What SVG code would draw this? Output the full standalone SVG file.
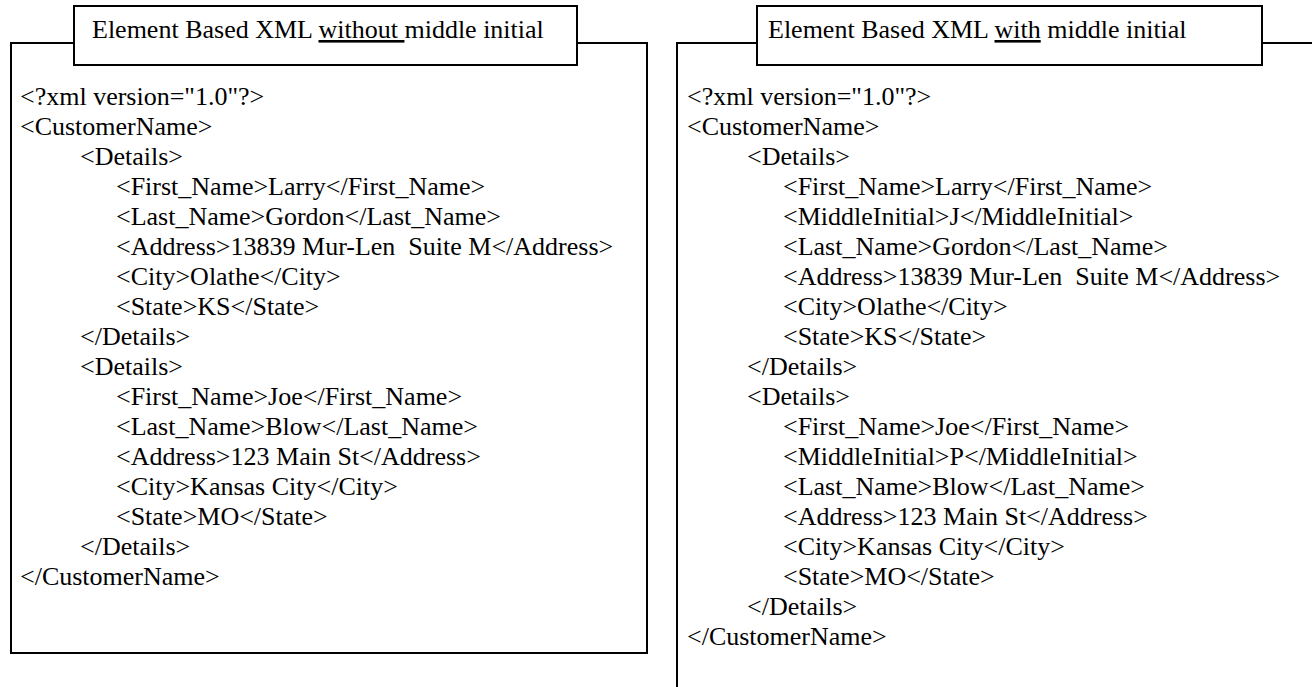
<svg xmlns="http://www.w3.org/2000/svg" width="1312" height="687" viewBox="0 0 1312 687">
<style>
  .frame { fill: none; stroke: #000; stroke-width: 2; }
  .tbox { fill: #fff; stroke: #000; stroke-width: 2; }
  .t { font-family: 'Liberation Serif', 'Times New Roman', Times, serif; font-size: 26px; fill: #000; white-space: pre; }
  .u { text-decoration: underline; }
</style>
<rect x="0" y="0" width="1312" height="687" fill="#fff"/>
<g id="panel-left" font-family="Liberation Serif, Times New Roman, serif">
  <rect class="frame" x="11" y="43" width="636" height="610"/>
  <g id="title-left">
    <rect class="tbox" x="74" y="6" width="503" height="59"/>
    <text class="t" x="92" y="38" xml:space="preserve">Element Based XML <tspan class="u">without </tspan>middle initial</text>
  </g>
  <g id="code-left">
    <text class="t" x="20" y="105">&lt;?xml version="1.0"?&gt;</text>
    <text class="t" x="20" y="135">&lt;CustomerName&gt;</text>
    <text class="t" x="80" y="165">&lt;Details&gt;</text>
    <text class="t" x="116" y="195">&lt;First_Name&gt;Larry&lt;/First_Name&gt;</text>
    <text class="t" x="116" y="225">&lt;Last_Name&gt;Gordon&lt;/Last_Name&gt;</text>
    <text class="t" x="116" y="255" xml:space="preserve">&lt;Address&gt;13839 Mur-Len  Suite M&lt;/Address&gt;</text>
    <text class="t" x="116" y="285">&lt;City&gt;Olathe&lt;/City&gt;</text>
    <text class="t" x="116" y="315">&lt;State&gt;KS&lt;/State&gt;</text>
    <text class="t" x="80" y="345">&lt;/Details&gt;</text>
    <text class="t" x="80" y="375">&lt;Details&gt;</text>
    <text class="t" x="116" y="405">&lt;First_Name&gt;Joe&lt;/First_Name&gt;</text>
    <text class="t" x="116" y="435">&lt;Last_Name&gt;Blow&lt;/Last_Name&gt;</text>
    <text class="t" x="116" y="465">&lt;Address&gt;123 Main St&lt;/Address&gt;</text>
    <text class="t" x="116" y="495">&lt;City&gt;Kansas City&lt;/City&gt;</text>
    <text class="t" x="116" y="525">&lt;State&gt;MO&lt;/State&gt;</text>
    <text class="t" x="80" y="555">&lt;/Details&gt;</text>
    <text class="t" x="20" y="585">&lt;/CustomerName&gt;</text>
  </g>
</g>
<g id="panel-right" font-family="Liberation Serif, Times New Roman, serif">
  <path class="frame" d="M1313 43 H677 V688"/>
  <g id="title-right">
    <rect class="tbox" x="757" y="6" width="505" height="59"/>
    <text class="t" x="768" y="38" xml:space="preserve">Element Based XML <tspan class="u">with</tspan> middle initial</text>
  </g>
  <g id="code-right">
    <text class="t" x="687" y="105">&lt;?xml version="1.0"?&gt;</text>
    <text class="t" x="687" y="135">&lt;CustomerName&gt;</text>
    <text class="t" x="747" y="165">&lt;Details&gt;</text>
    <text class="t" x="783" y="195">&lt;First_Name&gt;Larry&lt;/First_Name&gt;</text>
    <text class="t" x="783" y="225">&lt;MiddleInitial&gt;J&lt;/MiddleInitial&gt;</text>
    <text class="t" x="783" y="255">&lt;Last_Name&gt;Gordon&lt;/Last_Name&gt;</text>
    <text class="t" x="783" y="285" xml:space="preserve">&lt;Address&gt;13839 Mur-Len  Suite M&lt;/Address&gt;</text>
    <text class="t" x="783" y="315">&lt;City&gt;Olathe&lt;/City&gt;</text>
    <text class="t" x="783" y="345">&lt;State&gt;KS&lt;/State&gt;</text>
    <text class="t" x="747" y="375">&lt;/Details&gt;</text>
    <text class="t" x="747" y="405">&lt;Details&gt;</text>
    <text class="t" x="783" y="435">&lt;First_Name&gt;Joe&lt;/First_Name&gt;</text>
    <text class="t" x="783" y="465">&lt;MiddleInitial&gt;P&lt;/MiddleInitial&gt;</text>
    <text class="t" x="783" y="495">&lt;Last_Name&gt;Blow&lt;/Last_Name&gt;</text>
    <text class="t" x="783" y="525">&lt;Address&gt;123 Main St&lt;/Address&gt;</text>
    <text class="t" x="783" y="555">&lt;City&gt;Kansas City&lt;/City&gt;</text>
    <text class="t" x="783" y="585">&lt;State&gt;MO&lt;/State&gt;</text>
    <text class="t" x="747" y="615">&lt;/Details&gt;</text>
    <text class="t" x="687" y="645">&lt;/CustomerName&gt;</text>
  </g>
</g>
<g id="connectors"/>
</svg>
